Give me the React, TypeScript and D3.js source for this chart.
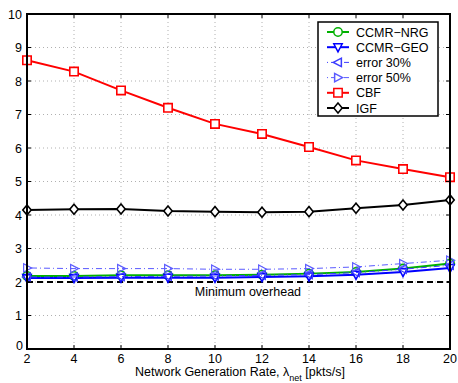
import React from "react";
import * as d3 from "d3";

const xValues = [2, 4, 6, 8, 10, 12, 14, 16, 18, 20];
const ccmrNrg = [2.18, 2.18, 2.2, 2.2, 2.2, 2.22, 2.25, 2.3, 2.4, 2.55];
const ccmrGeo = [2.12, 2.12, 2.13, 2.13, 2.13, 2.15, 2.17, 2.22, 2.3, 2.42];
const error30 = [2.15, 2.15, 2.16, 2.17, 2.18, 2.2, 2.22, 2.28, 2.38, 2.5];
const error50 = [2.42, 2.4, 2.4, 2.4, 2.38, 2.38, 2.4, 2.45, 2.55, 2.65];
const cbf = [8.62, 8.28, 7.72, 7.2, 6.72, 6.42, 6.03, 5.63, 5.37, 5.13];
const igf = [4.15, 4.17, 4.18, 4.12, 4.1, 4.08, 4.1, 4.2, 4.3, 4.45];
const minOverhead = 2;
const xTicks = [2, 4, 6, 8, 10, 12, 14, 16, 18, 20];
const yTicks = [0, 1, 2, 3, 4, 5, 6, 7, 8, 9, 10];

type Marker = "circle" | "down" | "left" | "right" | "square" | "diamond";
interface Series {
  name: string;
  values: number[];
  color: string;
  width: number;
  dash: string | undefined;
  marker: Marker;
}

const series: Series[] = [
  { name: "CCMR\u2212NRG", values: ccmrNrg, color: "#00b000", width: 2, dash: undefined, marker: "circle" },
  { name: "CCMR\u2212GEO", values: ccmrGeo, color: "#0000ff", width: 2, dash: undefined, marker: "down" },
  { name: "error 30%", values: error30, color: "#3c3cff", width: 1, dash: "1,3,6,3", marker: "left" },
  { name: "error 50%", values: error50, color: "#5a5aff", width: 1, dash: "1,3,6,3", marker: "right" },
  { name: "CBF", values: cbf, color: "#ff0000", width: 2, dash: undefined, marker: "square" },
  { name: "IGF", values: igf, color: "#000000", width: 2, dash: undefined, marker: "diamond" },
];

function markerPath(m: Marker, s: number): string {
  switch (m) {
    case "circle":
      return `M${-s},0A${s},${s} 0 1,0 ${s},0A${s},${s} 0 1,0 ${-s},0Z`;
    case "down":
      return `M${-s},${-s * 0.8}L${s},${-s * 0.8}L0,${s * 1.1}Z`;
    case "left":
      return `M${-s * 1.1},0L${s * 0.8},${-s}L${s * 0.8},${s}Z`;
    case "right":
      return `M${s * 1.1},0L${-s * 0.8},${-s}L${-s * 0.8},${s}Z`;
    case "square":
      return `M${-s},${-s}H${s}V${s}H${-s}Z`;
    case "diamond":
      return `M0,${-s * 1.2}L${s},0L0,${s * 1.2}L${-s},0Z`;
  }
}

export default function App() {
  const W = 458, H = 383;
  const left = 27, right = 450, top = 14, bottom = 349;
  const x = d3.scaleLinear().domain([2, 20]).range([left, right]);
  const y = d3.scaleLinear().domain([0, 10]).range([bottom, top]);
  const line = d3.line<number>().x((_, i) => x(xValues[i])).y((d) => y(d));
  const font = "Liberation Sans, Arial, Helvetica, sans-serif";

  const legX = 318, legY = 22, legW = 120, legH = 94;
  const rowH = 15.2;

  return (
    <svg width={W} height={H} style={{ position: "absolute", left: 0, top: 0 }} fontFamily={font}>
      <rect x={0} y={0} width={W} height={H} fill="#fff" />
      {/* grid */}
      {xTicks.slice(1, -1).map((t) => (
        <line key={"gx" + t} x1={x(t)} x2={x(t)} y1={top} y2={bottom} stroke="#b0b0b0" strokeWidth={1} strokeDasharray="1,3" />
      ))}
      {yTicks.slice(1, -1).map((t) => (
        <line key={"gy" + t} x1={left} x2={right} y1={y(t)} y2={y(t)} stroke="#b0b0b0" strokeWidth={1} strokeDasharray="1,3" />
      ))}
      {/* minimum overhead */}
      <line x1={left} x2={right} y1={y(minOverhead)} y2={y(minOverhead)} stroke="#000" strokeWidth={2} strokeDasharray="6,4" />
      <text x={x(11.4)} y={y(minOverhead) + 14} fontSize={12.5} textAnchor="middle" fill="#000">Minimum overhead</text>
      {/* series */}
      {series.map((s) => (
        <g key={s.name}>
          <path d={line(s.values) || ""} fill="none" stroke={s.color} strokeWidth={s.width} strokeDasharray={s.dash} />
          {s.values.map((v, i) => (
            <path key={i} d={markerPath(s.marker, 4.2)} transform={`translate(${x(xValues[i])},${y(v)})`} fill="#fff" fillOpacity={s.marker === "left" || s.marker === "right" ? 0 : 1} stroke={s.color} strokeWidth={s.marker === "left" || s.marker === "right" ? 1.2 : 1.6} />
          ))}
        </g>
      ))}
      {/* axes box */}
      <rect x={left} y={top} width={right - left} height={bottom - top} fill="none" stroke="#000" strokeWidth={2} />
      {xTicks.map((t) => (
        <g key={"tx" + t}>
          <line x1={x(t)} x2={x(t)} y1={bottom} y2={bottom - 4} stroke="#000" strokeWidth={1} />
          <line x1={x(t)} x2={x(t)} y1={top} y2={top + 4} stroke="#000" strokeWidth={1} />
          <text x={x(t)} y={bottom + 14} fontSize={12.5} textAnchor="middle" fill="#000">{t}</text>
        </g>
      ))}
      {yTicks.map((t) => (
        <g key={"ty" + t}>
          <line x1={left} x2={left + 4} y1={y(t)} y2={y(t)} stroke="#000" strokeWidth={1} />
          <line x1={right} x2={right - 4} y1={y(t)} y2={y(t)} stroke="#000" strokeWidth={1} />
          <text x={t === 0 ? 23 : 22} y={y(t) + (t === 0 ? 1 : 4.5)} fontSize={12.5} textAnchor="end" fill="#000">{t}</text>
        </g>
      ))}
      <text x={240} y={376} fontSize={12.5} textAnchor="middle" fill="#000">
        Network Generation Rate, λ<tspan fontSize={9} dy={5}>net</tspan><tspan dy={-5}> [pkts/s]</tspan>
      </text>
      {/* legend */}
      <rect x={legX} y={legY} width={legW} height={legH} fill="#fff" stroke="#000" strokeWidth={1.5} />
      {series.map((s, i) => {
        const cy = legY + 10 + i * rowH;
        return (
          <g key={"leg" + s.name}>
            <line x1={legX + 9} x2={legX + 31} y1={cy} y2={cy} stroke={s.color} strokeWidth={s.width} strokeDasharray={s.dash} />
            <path d={markerPath(s.marker, 4.2)} transform={`translate(${legX + 20},${cy})`} fill="#fff" stroke={s.color} strokeWidth={1.5} />
            <text x={legX + 38} y={cy + 4.5} fontSize={12.5} fill="#000">{s.name}</text>
          </g>
        );
      })}
    </svg>
  );
}
